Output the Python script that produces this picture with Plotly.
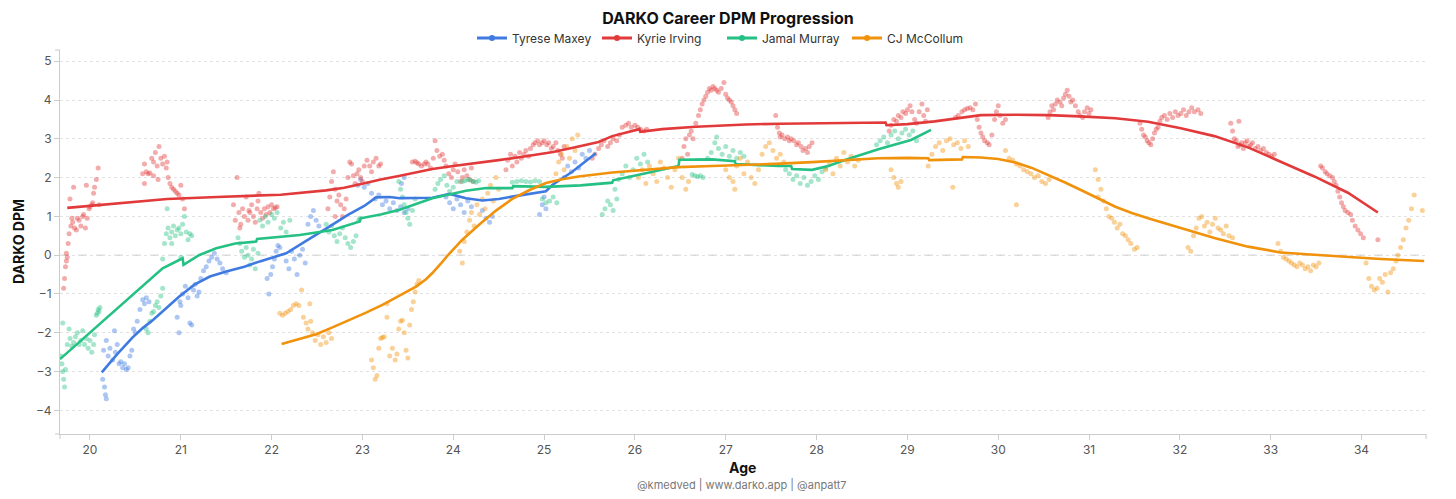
import plotly.graph_objects as go

# ---------------- data ----------------
players = ["Tyrese Maxey", "Kyrie Irving", "Jamal Murray", "CJ McCollum"]
colors = ["#3f7ae0", "#e23a3a", "#25c083", "#f0920c"]

x_ticks = list(range(20, 35))
y_ticks = list(range(-4, 6))

# smoothed career lines (age, DPM)
maxey_line_age = [20.13, 20.3, 20.47, 20.58, 20.7, 20.82, 20.98, 21.15, 21.32, 21.5, 21.7, 21.87, 22.16, 22.34,
                  22.49, 22.64, 22.84, 23.02, 23.15, 23.3, 23.41, 23.6, 23.77, 23.96, 24.14, 24.32, 24.5, 24.65,
                  24.85, 25.02, 25.09, 25.31, 25.57]
maxey_line_val = [-3.02, -2.55, -2.12, -1.88, -1.66, -1.41, -1.07, -0.76, -0.55, -0.42, -0.3, -0.16, 0.05, 0.31,
                  0.52, 0.74, 1.04, 1.27, 1.49, 1.5, 1.47, 1.47, 1.48, 1.58, 1.47, 1.41, 1.45, 1.51,
                  1.58, 1.65, 1.81, 2.15, 2.63]

kyrie_line_age = [19.75, 20.3, 20.85, 21.4, 22.0, 22.1, 22.6, 22.8, 23.0, 23.2, 23.4, 23.77, 24.0, 24.29, 24.5,
                  24.8, 25.1, 25.38, 25.6, 25.75, 25.9, 26.05, 26.06, 26.3, 26.67, 27.0, 27.22, 27.6, 27.95,
                  28.3, 28.76, 28.77, 29.0, 29.3, 29.56, 29.81, 30.2, 30.55, 30.9, 31.29, 31.65, 32.01, 32.38,
                  32.75, 33.11, 33.48, 33.85, 34.18]
kyrie_line_val = [1.22, 1.33, 1.45, 1.5, 1.55, 1.56, 1.67, 1.74, 1.84, 1.95, 2.04, 2.22, 2.3, 2.38, 2.45,
                  2.55, 2.66, 2.8, 2.92, 3.07, 3.17, 3.25, 3.18, 3.25, 3.31, 3.35, 3.37, 3.39, 3.40,
                  3.41, 3.42, 3.35, 3.38, 3.45, 3.53, 3.61, 3.62, 3.61, 3.58, 3.53, 3.44, 3.27, 3.07,
                  2.78, 2.41, 2.03, 1.61, 1.10]

murray_line_age = [19.67, 20.0, 20.3, 20.6, 20.8, 21.02, 21.03, 21.2, 21.39, 21.6, 21.83, 21.84, 22.0, 22.31,
                   22.67, 22.97, 22.98, 23.2, 23.41, 23.77, 24.14, 24.36, 24.65, 24.66, 25.02, 25.4, 25.75,
                   25.76, 26.12, 26.48, 26.49, 26.85, 27.1, 27.11, 27.58, 27.72, 27.73, 27.95, 28.13, 28.32,
                   28.68, 29.04, 29.26]
murray_line_val = [-2.68, -2.0, -1.37, -0.75, -0.34, -0.08, -0.25, 0.0, 0.18, 0.3, 0.35, 0.42, 0.45, 0.52,
                   0.65, 0.87, 0.95, 1.05, 1.17, 1.47, 1.66, 1.73, 1.73, 1.78, 1.76, 1.8, 1.87,
                   1.93, 2.11, 2.3, 2.46, 2.47, 2.42, 2.35, 2.30, 2.30, 2.22, 2.20, 2.30, 2.46,
                   2.73, 2.97, 3.23]

mccollum_line_age = [22.11, 22.3, 22.49, 22.67, 22.86, 23.04, 23.22, 23.4, 23.59, 23.7, 23.77, 23.87, 23.96,
                     24.1, 24.29, 24.47, 24.65, 24.84, 25.02, 25.2, 25.38, 25.75, 26.1, 26.48, 26.85, 27.22,
                     27.6, 27.95, 28.3, 28.68, 29.0, 29.23, 29.24, 29.56, 29.6, 29.61, 29.81, 30.0, 30.19,
                     30.37, 30.55, 30.73, 30.91, 31.1, 31.29, 31.47, 31.65, 32.01, 32.38, 32.75, 33.11,
                     33.48, 33.85, 34.21, 34.69]
mccollum_line_val = [-2.29, -2.17, -2.04, -1.86, -1.67, -1.48, -1.28, -1.06, -0.81, -0.62, -0.46, -0.2, 0.05,
                     0.4, 0.8, 1.15, 1.45, 1.68, 1.86, 1.96, 2.03, 2.13, 2.2, 2.27, 2.3, 2.32,
                     2.36, 2.40, 2.45, 2.50, 2.51, 2.50, 2.45, 2.46, 2.47, 2.53, 2.52, 2.48, 2.39,
                     2.25, 2.07, 1.88, 1.68, 1.46, 1.25, 1.09, 0.95, 0.70, 0.44, 0.22, 0.07,
                     0.01, -0.05, -0.10, -0.15]

# daily DPM estimates (age, DPM)
maxey_points = [
    (20.14, -3.2), (20.16, -3.4), (20.17, -3.6), (20.18, -3.7), (20.15, -2.45), (20.18, -2.2), (20.2, -2.6),
    (20.22, -2.4), (20.25, -2.7), (20.27, -1.95), (20.3, -2.3), (20.32, -2.8), (20.34, -2.75), (20.36, -2.9),
    (20.38, -2.8), (20.4, -2.95), (20.42, -2.9), (20.44, -2.6), (20.46, -2.45), (20.28, -2.5),
    (20.48, -1.9), (20.5, -2.0), (20.52, -1.7), (20.55, -1.4), (20.58, -1.15), (20.6, -1.25), (20.62, -1.1),
    (20.65, -1.2),
    (20.96, -1.6), (20.98, -2.0), (21.0, -1.3), (21.02, -1.0), (21.05, -0.8), (21.08, -1.1), (21.1, -1.75),
    (21.12, -1.8), (21.14, -0.9), (21.16, -0.75), (21.18, -1.05), (21.2, -0.95), (20.99, -1.2),
    (21.22, -0.6), (21.25, -0.4), (21.28, -0.3), (21.31, -0.15), (21.34, -0.05), (21.37, 0.05), (21.4, -0.1),
    (21.43, -0.2), (21.46, -0.35), (21.5, -0.45),
    (21.95, -0.6), (21.97, -1.0), (21.99, -0.5), (22.01, -0.3), (22.03, -0.1), (22.05, 0.1), (22.07, 0.25),
    (22.09, 0.2),
    (22.16, -0.15), (22.19, -0.35), (22.22, 0.1), (22.25, -0.1), (22.28, -0.5), (22.31, 0.0), (22.34, 0.15),
    (22.37, -0.2),
    (22.4, 0.8), (22.43, 1.0), (22.46, 1.15), (22.49, 0.9), (22.52, 0.75),
    (22.95, 1.8), (22.98, 1.95), (23.02, 1.75), (23.06, 1.85), (23.1, 1.6), (23.14, 1.45), (23.18, 1.55),
    (23.22, 1.3), (23.26, 1.4), (23.3, 1.2), (23.34, 1.35), (23.38, 1.15), (23.42, 1.25), (23.46, 1.1),
    (23.5, 1.2), (23.43, 1.85), (23.46, 2.0),
    (23.92, 1.5), (23.96, 1.35), (24.0, 1.2), (24.04, 1.45), (24.08, 1.3), (24.12, 1.1), (24.16, 1.4),
    (24.2, 1.25), (24.32, 1.15), (24.36, 0.95), (24.4, 0.85), (24.43, 1.0),
    (24.95, 1.05), (24.98, 1.3), (25.0, 1.5), (25.02, 1.2),
    (25.22, 2.0), (25.26, 2.3), (25.3, 2.15), (25.34, 2.4), (25.38, 2.25), (25.42, 2.6), (25.46, 2.5),
    (25.5, 2.7),
]

kyrie_points = [
    (19.71, -0.85), (19.72, -0.6), (19.73, -0.3), (19.74, -0.15), (19.75, -0.05), (19.74, 0.05), (19.76, 0.3),
    (19.77, 0.55), (19.79, 0.75), (19.80, 0.95), (19.81, 0.85), (19.83, 0.7), (19.85, 0.65), (19.86, 0.95),
    (19.88, 0.9), (19.9, 0.75), (19.92, 1.0), (19.93, 1.05), (19.95, 0.7), (19.97, 0.95), (19.99, 1.2),
    (20.0, 1.25), (20.02, 1.3), (20.04, 1.6), (20.05, 1.75), (20.07, 1.95), (20.09, 2.25), (20.1, 1.3),
    (19.78, 1.45), (19.82, 1.75), (19.96, 1.8), (20.03, 1.35),
    (20.58, 2.1), (20.60, 2.35), (20.62, 2.15), (20.64, 2.1), (20.66, 2.12), (20.68, 2.5), (20.7, 2.4),
    (20.72, 2.65), (20.74, 2.3), (20.76, 2.8), (20.78, 2.5), (20.8, 2.35), (20.82, 2.55), (20.84, 2.25),
    (20.86, 2.0), (20.88, 1.85), (20.9, 1.75), (20.92, 1.7), (20.94, 1.65), (20.96, 1.6), (20.98, 1.55),
    (21.0, 1.8), (21.02, 1.45), (21.04, 1.2), (20.75, 1.95), (20.7, 2.05), (20.85, 2.4), (20.6, 1.85),
    (21.58, 1.3), (21.6, 0.9), (21.62, 2.0), (21.64, 1.1), (21.66, 0.8), (21.68, 1.2), (21.7, 1.0),
    (21.72, 1.5), (21.74, 0.9), (21.76, 1.1), (21.78, 1.3), (21.8, 1.0), (21.82, 0.85), (21.84, 1.2),
    (21.86, 1.6), (21.88, 1.1), (21.9, 0.95), (21.92, 1.2), (21.94, 1.05), (21.96, 1.25), (21.98, 1.1),
    (22.0, 1.3), (22.02, 1.2), (22.04, 1.22), (22.06, 1.25), (21.65, 0.7), (21.85, 1.4), (21.75, 1.15),
    (22.62, 1.2), (22.64, 1.5), (22.66, 1.9), (22.68, 2.15), (22.7, 1.7), (22.72, 1.4), (22.74, 1.55),
    (22.76, 1.3), (22.78, 1.0), (22.8, 1.2), (22.82, 1.45), (22.84, 2.0), (22.86, 2.4), (22.88, 2.35),
    (22.9, 2.05), (22.92, 1.85), (22.94, 2.1), (22.96, 2.2), (22.98, 2.0), (23.0, 1.9), (23.02, 2.3),
    (23.05, 2.45), (23.08, 2.3), (23.1, 2.15), (23.12, 2.4), (23.15, 2.5), (23.18, 2.3), (23.2, 2.35),
    (22.7, 1.0),
    (23.55, 2.4), (23.58, 2.42), (23.6, 2.38), (23.62, 2.35), (23.65, 2.3), (23.68, 2.35), (23.7, 2.4),
    (23.72, 2.35), (23.75, 2.25), (23.78, 2.5), (23.8, 2.95), (23.82, 2.7), (23.85, 2.55), (23.88, 2.6),
    (23.9, 2.45), (23.92, 2.3), (23.95, 2.1), (23.98, 2.0), (24.0, 2.2), (24.02, 2.35), (24.05, 2.15),
    (24.08, 1.9), (24.1, 2.0), (24.12, 2.2), (24.15, 2.05), (24.18, 1.95), (24.2, 2.25), (24.22, 1.9),
    (24.58, 2.2), (24.6, 2.45), (24.63, 2.6), (24.65, 2.3), (24.68, 2.55), (24.7, 2.4), (24.73, 2.65),
    (24.75, 2.5), (24.78, 2.6), (24.8, 2.7), (24.83, 2.55), (24.85, 2.75), (24.88, 2.85), (24.9, 2.9),
    (24.93, 2.95), (24.95, 2.85), (24.98, 2.9), (25.0, 2.95), (25.03, 2.85), (25.05, 2.9), (25.08, 2.75),
    (25.1, 2.8), (25.13, 2.9), (25.15, 2.7), (25.18, 2.6), (25.2, 2.5), (25.22, 2.8),
    (25.53, 2.5), (25.56, 2.6), (25.6, 2.75), (25.63, 2.85), (25.66, 2.95), (25.7, 2.8), (25.73, 2.9),
    (25.76, 3.0), (25.8, 2.95), (25.83, 3.1), (25.86, 3.3), (25.9, 3.35), (25.93, 3.4), (25.96, 3.3),
    (26.0, 3.35), (26.03, 3.3), (26.06, 3.25), (26.1, 3.2), (26.13, 3.25),
    (26.52, 2.5), (26.54, 2.8), (26.56, 3.0), (26.58, 2.6), (26.6, 3.1), (26.62, 3.2), (26.64, 3.0),
    (26.67, 3.4), (26.7, 3.6), (26.72, 3.75), (26.74, 3.9), (26.76, 4.0), (26.78, 4.1), (26.8, 4.2),
    (26.82, 4.3), (26.84, 4.25), (26.86, 4.35), (26.88, 4.3), (26.9, 4.25), (26.92, 4.2), (26.95, 4.3),
    (26.98, 4.45), (27.0, 4.15), (27.02, 4.05), (27.04, 4.0), (27.06, 3.95), (27.08, 3.85), (27.1, 3.75),
    (27.12, 3.65),
    (27.55, 3.6), (27.57, 3.3), (27.59, 3.15), (27.6, 3.05), (27.62, 3.1), (27.65, 3.0), (27.68, 3.05),
    (27.7, 2.95), (27.72, 3.0), (27.75, 2.95), (27.78, 2.85), (27.8, 2.9), (27.83, 2.8), (27.85, 2.7),
    (27.88, 2.75), (27.9, 2.65), (27.92, 2.8), (27.95, 2.9),
    (28.8, 3.2), (28.82, 3.35), (28.85, 3.5), (28.88, 3.45), (28.9, 3.6), (28.93, 3.55), (28.95, 3.7),
    (28.98, 3.65), (29.0, 3.75), (29.03, 3.85), (29.05, 3.7), (29.08, 3.5), (29.1, 3.4), (29.13, 3.7),
    (29.16, 3.9), (29.18, 3.6), (29.2, 3.45), (29.22, 3.75),
    (29.53, 3.55), (29.56, 3.6), (29.6, 3.7), (29.63, 3.75), (29.66, 3.78), (29.69, 3.8), (29.72, 3.75),
    (29.75, 3.9), (29.77, 3.5), (29.79, 3.3), (29.81, 3.15), (29.83, 3.05), (29.85, 2.95), (29.88, 2.9),
    (29.9, 2.85), (29.93, 3.1), (29.96, 3.5), (29.98, 3.7), (30.0, 3.85), (30.02, 3.6), (30.05, 3.4),
    (30.08, 3.5),
    (30.55, 3.55), (30.57, 3.7), (30.59, 3.85), (30.61, 3.75), (30.63, 3.9), (30.65, 4.0), (30.68, 3.95),
    (30.7, 3.85), (30.72, 4.05), (30.74, 4.15), (30.76, 4.25), (30.78, 4.1), (30.8, 3.95), (30.82, 4.0),
    (30.85, 3.85), (30.88, 3.7), (30.9, 3.6), (30.93, 3.55), (30.95, 3.7), (30.98, 3.8), (31.0, 3.65),
    (31.02, 3.75),
    (31.56, 3.4), (31.58, 3.25), (31.6, 3.1), (31.62, 3.05), (31.64, 2.95), (31.66, 2.9), (31.68, 2.85),
    (31.7, 3.0), (31.72, 3.15), (31.74, 3.25), (31.76, 3.3), (31.78, 3.45), (31.8, 3.55), (31.83, 3.6),
    (31.86, 3.5), (31.89, 3.65), (31.92, 3.55), (31.95, 3.7), (31.98, 3.6), (32.01, 3.65), (32.04, 3.75),
    (32.07, 3.6), (32.1, 3.7), (32.13, 3.8), (32.16, 3.7), (32.2, 3.75), (32.23, 3.65),
    (32.56, 3.4), (32.58, 3.2), (32.6, 3.0), (32.62, 2.95), (32.64, 2.8), (32.66, 2.85), (32.68, 2.9),
    (32.7, 2.75), (32.72, 2.9), (32.74, 2.95), (32.76, 2.8), (32.78, 2.85), (32.8, 2.9), (32.83, 2.75),
    (32.86, 2.8), (32.89, 2.7), (32.92, 2.75), (32.95, 2.65), (32.98, 2.6), (33.01, 2.55), (33.04, 2.6),
    (32.65, 3.45),
    (33.55, 2.3), (33.57, 2.25), (33.6, 2.15), (33.62, 2.1), (33.65, 2.05), (33.68, 2.0), (33.7, 1.9),
    (33.72, 1.8), (33.74, 1.65), (33.76, 1.5), (33.78, 1.35), (33.8, 1.25), (33.82, 1.15), (33.85, 1.1),
    (33.88, 1.05), (33.9, 0.9), (33.93, 0.75), (33.96, 0.65), (33.99, 0.55), (34.02, 0.45), (34.18, 0.4),
]

murray_points = [
    (19.68, -2.6), (19.69, -2.8), (19.7, -3.0), (19.71, -3.2), (19.72, -3.4), (19.7, -1.75), (19.73, -2.95),
    (19.75, -2.3), (19.77, -1.9), (19.78, -2.15), (19.8, -2.35), (19.82, -2.25), (19.84, -2.1), (19.86, -2.0),
    (19.88, -2.3), (19.9, -2.2), (19.92, -1.95), (19.94, -2.3), (19.96, -2.15), (19.98, -2.4), (20.0, -2.2),
    (20.02, -2.5), (20.04, -2.3), (20.05, -2.05), (20.08, -1.5), (20.09, -1.4), (20.1, -1.45), (20.11, -1.35),
    (20.07, -1.55),
    (20.62, -1.9), (20.64, -2.0), (20.66, -1.7), (20.68, -1.5), (20.7, -1.45), (20.72, -1.3), (20.74, -1.2),
    (20.76, -1.35), (20.78, -1.05), (20.8, -0.85),
    (20.8, -0.1), (20.82, 0.3), (20.84, 0.55), (20.86, 0.7), (20.88, 0.45), (20.9, 0.6), (20.92, 0.75),
    (20.94, 0.5), (20.96, 0.65), (20.98, 0.7), (21.0, 0.55), (21.02, 0.8), (21.04, 1.0), (21.06, 0.6),
    (21.08, 0.4), (21.1, 0.55), (21.12, 0.5), (20.85, 1.2), (20.9, 0.3), (21.0, -0.05),
    (21.63, 0.45), (21.65, 0.3), (21.67, 0.1), (21.7, -0.05), (21.72, 0.2), (21.74, 0.0), (21.76, -0.25),
    (21.78, -0.1), (21.8, 0.15), (21.82, -0.35), (21.85, 0.05), (21.87, 0.9), (21.9, 0.75), (21.93, 1.0),
    (21.96, 0.85), (22.0, 1.05), (22.03, 0.95), (22.06, 1.1), (22.1, 0.7), (22.13, 0.85), (22.16, 0.6),
    (22.2, 0.9),
    (22.6, 0.8), (22.63, 0.6), (22.66, 0.75), (22.69, 0.5), (22.72, 0.35), (22.75, 0.55), (22.78, 0.7),
    (22.81, 0.45), (22.84, 0.3), (22.87, 0.2), (22.9, 0.35), (22.93, 0.5), (22.96, 0.9), (22.97, 0.95),
    (23.4, 1.9), (23.42, 1.7), (23.44, 1.5), (23.46, 1.3), (23.48, 1.1), (23.5, 0.95), (23.52, 0.8),
    (23.55, 1.15), (23.58, 1.45),
    (23.8, 1.7), (23.83, 1.85), (23.86, 1.95), (23.9, 2.05), (23.93, 1.8), (23.96, 1.65), (24.0, 1.75),
    (24.04, 1.9),
    (24.1, 1.9), (24.13, 1.92), (24.16, 1.95), (24.19, 1.93), (24.22, 1.9), (24.25, 1.88), (24.28, 1.92),
    (24.65, 1.88), (24.7, 1.9), (24.75, 1.92), (24.8, 1.9), (24.85, 1.89), (24.9, 1.92), (24.95, 1.9),
    (24.98, 1.45), (25.02, 1.35), (25.06, 1.4), (25.1, 1.5), (25.14, 1.35),
    (25.64, 1.05), (25.67, 1.2), (25.7, 1.4), (25.73, 1.3), (25.76, 1.15), (25.8, 1.45),
    (25.78, 1.7), (25.82, 1.95), (25.86, 2.1), (25.9, 2.3), (25.94, 2.0), (25.98, 2.2), (26.02, 2.5),
    (26.06, 2.35), (26.1, 2.6), (26.14, 2.4),
    (26.63, 2.08), (26.66, 2.05), (26.69, 2.02), (26.72, 2.05), (26.75, 2.0),
    (26.8, 2.5), (26.84, 2.65), (26.88, 2.9), (26.92, 2.75), (26.96, 2.6), (27.0, 2.8), (27.04, 2.55),
    (27.08, 2.7), (27.12, 2.5), (27.16, 2.65), (27.2, 2.55), (26.9, 3.05),
    (27.66, 2.2), (27.7, 2.1), (27.74, 1.95), (27.78, 2.05), (27.82, 1.85), (27.86, 2.0), (27.9, 1.8),
    (27.94, 1.9), (27.98, 2.05), (28.02, 1.95), (28.06, 2.15), (28.1, 2.25),
    (28.66, 2.85), (28.7, 2.95), (28.74, 3.05), (28.78, 2.9), (28.82, 3.1), (28.86, 3.2), (28.9, 3.0),
    (28.94, 3.15), (28.98, 3.25), (29.02, 3.1), (29.06, 3.2), (29.1, 2.95),
]

mccollum_points = [
    (22.09, -1.5), (22.12, -1.55), (22.15, -1.5), (22.18, -1.45), (22.21, -1.4), (22.24, -1.3), (22.27, -1.25),
    (22.3, -1.3), (22.33, -0.9), (22.35, -1.6), (22.38, -1.75), (22.4, -1.9), (22.43, -1.7), (22.45, -2.0),
    (22.48, -2.2), (22.51, -2.05), (22.54, -2.3), (22.57, -2.1), (22.6, -2.25), (22.63, -2.0), (22.66, -2.15),
    (22.42, -1.25),
    (23.1, -2.7), (23.12, -2.9), (23.14, -3.2), (23.16, -3.1), (23.18, -2.4), (23.2, -2.15), (23.22, -2.12),
    (23.24, -2.1), (23.27, -1.6), (23.3, -2.6), (23.33, -2.4), (23.36, -2.7), (23.38, -2.55), (23.4, -1.9),
    (23.42, -1.7), (23.44, -1.68), (23.46, -2.0), (23.48, -2.45), (23.5, -2.65), (23.52, -1.8), (23.54, -1.4),
    (23.56, -1.2), (23.58, -0.95), (23.6, -0.75), (23.62, -0.65), (23.27, -1.25),
    (24.07, 0.1), (24.1, -0.2), (24.12, 0.35), (24.15, 0.6), (24.18, 0.9), (24.2, 1.1), (24.23, 0.75),
    (24.26, 1.3), (24.29, 1.05), (24.32, 1.45), (24.35, 1.2), (24.38, 1.6), (24.41, 1.8), (24.44, 1.4),
    (24.47, 2.0), (24.5, 1.7),
    (25.13, 2.1), (25.16, 2.4), (25.19, 2.6), (25.22, 2.2), (25.25, 2.8), (25.28, 2.5), (25.31, 3.0),
    (25.34, 2.7), (25.37, 3.1),
    (26.04, 2.0), (26.08, 2.2), (26.12, 1.85), (26.16, 2.3), (26.2, 2.1), (26.24, 1.9), (26.28, 2.4),
    (26.32, 2.25), (26.36, 2.0), (26.4, 1.75), (26.44, 2.2), (26.48, 2.5), (26.52, 2.0), (26.56, 1.7),
    (26.59, 1.9),
    (27.0, 2.2), (27.04, 2.0), (27.08, 1.9), (27.12, 2.3), (27.16, 2.5), (27.2, 2.1), (27.24, 2.4),
    (27.28, 2.0), (27.32, 1.85), (27.36, 2.2), (27.4, 2.6), (27.44, 2.8), (27.48, 2.9), (27.52, 2.7),
    (27.56, 2.5), (27.6, 2.6), (27.64, 2.4), (27.1, 1.7),
    (28.1, 2.2), (28.14, 2.35), (28.18, 2.1), (28.22, 2.5), (28.26, 2.3), (28.3, 2.65), (28.34, 2.4),
    (28.38, 2.55), (28.42, 2.3), (28.46, 2.45),
    (28.82, 2.2), (28.85, 2.0), (28.88, 1.85), (28.9, 1.75), (28.93, 1.9),
    (29.23, 2.3), (29.27, 2.6), (29.31, 2.8), (29.35, 2.9), (29.39, 2.7), (29.43, 2.95), (29.47, 3.0),
    (29.51, 2.85), (29.55, 2.9), (29.59, 2.75), (29.63, 2.95), (29.67, 2.8), (29.5, 1.75),
    (30.08, 2.7), (30.12, 2.5), (30.16, 2.45), (30.2, 2.35), (30.24, 2.3), (30.28, 2.2), (30.32, 2.15),
    (30.36, 2.1), (30.4, 2.0), (30.44, 2.05), (30.48, 1.9), (30.52, 1.85), (30.56, 1.95), (30.2, 1.3),
    (31.07, 2.2), (31.1, 1.95), (31.13, 1.7), (31.16, 1.4), (31.19, 1.2), (31.22, 1.0), (31.25, 0.95),
    (31.28, 0.85), (31.31, 0.7), (31.34, 0.8), (31.37, 0.55), (31.4, 0.5), (31.43, 0.4), (31.46, 0.3),
    (31.5, 0.15), (31.53, 0.2), (31.1, 1.5),
    (32.09, 0.2), (32.12, 0.1), (32.15, 0.5), (32.18, 0.7), (32.21, 0.95), (32.24, 1.0), (32.27, 0.75),
    (32.3, 0.85), (32.33, 0.6), (32.36, 0.8), (32.39, 0.95), (32.42, 0.7), (32.45, 0.65), (32.48, 0.55),
    (32.51, 0.75), (32.54, 0.5), (32.58, 0.45),
    (33.08, 0.3), (33.11, 0.1), (33.14, -0.05), (33.17, -0.1), (33.2, -0.15), (33.23, -0.2), (33.26, -0.25),
    (33.29, -0.3), (33.32, -0.2), (33.35, -0.25), (33.38, -0.35), (33.41, -0.3), (33.44, -0.4), (33.47, -0.25),
    (33.5, -0.3), (33.53, -0.2),
    (34.05, -0.2), (34.08, -0.6), (34.11, -0.8), (34.14, -0.9), (34.17, -0.85), (34.2, -0.6), (34.23, -0.7),
    (34.26, -0.5), (34.29, -0.95), (34.32, -0.45), (34.35, -0.35), (34.38, -0.15),
    (34.4, 0.0), (34.43, 0.2), (34.46, 0.4), (34.49, 0.7), (34.52, 0.9), (34.55, 1.2), (34.58, 1.55),
    (34.67, 1.15),
]

# ---------------- figure ----------------
FONT = "Inter, 'Noto Sans', sans-serif"
lines = [(maxey_line_age, maxey_line_val), (kyrie_line_age, kyrie_line_val),
         (murray_line_age, murray_line_val), (mccollum_line_age, mccollum_line_val)]
points = [maxey_points, kyrie_points, murray_points, mccollum_points]

fig = go.Figure()
for name, col, pts in zip(players, colors, points):
    fig.add_trace(go.Scatter(
        x=[p[0] for p in pts], y=[p[1] for p in pts], mode="markers",
        marker=dict(color=col, size=5, opacity=0.42, line=dict(width=0)),
        showlegend=False, hoverinfo="skip"))
for name, col, (xa, ya) in zip(players, colors, lines):
    fig.add_trace(go.Scatter(x=xa, y=ya, mode="lines", line=dict(color=col, width=2.6),
                             name=name, showlegend=False))
for name, col in zip(players, colors):
    fig.add_trace(go.Scatter(x=[None], y=[None], mode="lines+markers", name=name,
                             line=dict(color=col, width=3), marker=dict(color=col, size=6)))

XR = [19.67, 34.71]
YR = [-4.61, 5.29]

# page body adds an 8px offset; plot area placed so it lands at x 60-1426, y 50-434 on screen
ML, MT, PW, PH = 52, 42, 1366, 384

shapes = [
    dict(type="line", xref="paper", yref="y", x0=0, x1=1, y0=0, y1=0,
         line=dict(color="#c4c4c4", width=1, dash="dash"), layer="below"),
    # d3-style outer ticks
    dict(type="line", xref="paper", yref="paper", x0=0, x1=-5 / PW, y0=1, y1=1, line=dict(color="#c8c8c8", width=1)),
    dict(type="line", xref="paper", yref="paper", x0=0, x1=-5 / PW, y0=0, y1=0, line=dict(color="#c8c8c8", width=1)),
    dict(type="line", xref="paper", yref="paper", x0=0, x1=0, y0=0, y1=-5 / PH, line=dict(color="#c8c8c8", width=1)),
    dict(type="line", xref="paper", yref="paper", x0=1, x1=1, y0=0, y1=-5 / PH, line=dict(color="#c8c8c8", width=1)),
]

fig.update_layout(
    width=1456, height=499,
    margin=dict(l=ML, r=1456 - ML - PW, t=MT, b=499 - MT - PH, autoexpand=False),
    paper_bgcolor="white", plot_bgcolor="white",
    font=dict(family=FONT, color="#444"),
    title=dict(text="<b>DARKO Career DPM Progression</b>", x=720 / 1456, xref="container", xanchor="center",
               y=1 - 10 / 499, yanchor="middle", font=dict(size=16, color="#111", family=FONT)),
    legend=dict(orientation="h", x=(722 - 60) / PW, xref="paper", xanchor="center", y=1.031,
                yanchor="middle", font=dict(size=12, color="#333"), entrywidth=80, itemwidth=30,
                bgcolor="rgba(0,0,0,0)"),
    xaxis=dict(range=XR, tickvals=x_ticks, ticktext=[str(t) for t in x_ticks], showgrid=False,
               zeroline=False, showline=True, linecolor="#cccccc", linewidth=1, ticks="outside",
               ticklen=5, tickcolor="#cccccc", tickfont=dict(size=12, color="#555"), mirror=False),
    yaxis=dict(range=YR, tickvals=y_ticks, ticktext=[str(t).replace("-", "\u2212") for t in y_ticks],
               showgrid=True, gridcolor="#e2e2e2", griddash="dot", gridwidth=1, zeroline=False,
               showline=True, linecolor="#cccccc", linewidth=1, ticks="outside", ticklen=5,
               tickcolor="#cccccc", tickfont=dict(size=12, color="#555")),
    shapes=shapes,
    annotations=[
        dict(text="<b>Age</b>", xref="paper", yref="paper", x=(742 - 60) / PW, y=(434 - 467) / PH,
             showarrow=False, font=dict(size=14, color="#111", family=FONT), yanchor="middle"),
        dict(text="<b>DARKO DPM</b>", xref="paper", yref="paper", x=(18 - 60) / PW, y=0.5, textangle=-90,
             showarrow=False, font=dict(size=14, color="#111", family=FONT), xanchor="center"),
        dict(text="@kmedved | www.darko.app | @anpatt7", xref="paper", yref="paper", x=(742 - 60) / PW,
             y=(434 - 485) / PH, showarrow=False, font=dict(size=11, color="#777", family=FONT),
             yanchor="middle"),
    ],
)

fig.write_html("out.html")
